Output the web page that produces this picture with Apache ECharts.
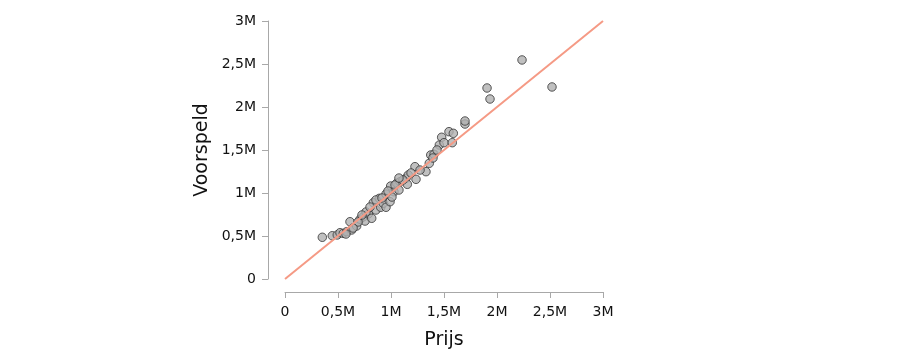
<!DOCTYPE html>
<html>
<head>
<meta charset="utf-8">
<script src="https://cdn.jsdelivr.net/npm/echarts@6/dist/echarts.min.js"></script>
<style>html,body{margin:0;padding:0;background:#fff;}#c{width:900px;height:361px;}</style>
</head>
<body>
<div id="c"></div>
<script>
// Observed price (Prijs), in millions
var prijs = [0.352,0.446,0.493,0.519,0.550,0.582,0.613,0.629,0.676,0.708,0.739,0.755,0.786,0.818,0.833,0.858,0.890,0.903,0.927,0.953,0.953,0.991,0.997,1.028,1.054,1.075,1.085,1.142,1.163,1.154,1.236,1.226,1.330,1.361,1.375,1.406,1.456,1.478,1.500,1.547,1.588,1.578,1.698,1.698,1.906,1.934,2.236,2.519,
  0.689,0.764,0.802,0.858,0.915,1.009,1.038,1.113,1.189,1.274,1.434,1.396,0.575,0.642,0.726,0.972,1.075];
// Predicted (Voorspeld), in millions
var voorspeld = [0.485,0.503,0.512,0.538,0.531,0.550,0.666,0.570,0.616,0.694,0.724,0.674,0.756,0.706,0.887,0.802,0.938,0.834,0.880,0.834,0.988,0.899,1.081,1.015,1.113,1.035,1.131,1.171,1.209,1.101,1.159,1.306,1.248,1.345,1.442,1.450,1.558,1.648,1.585,1.713,1.694,1.585,1.802,1.837,2.221,2.093,2.547,2.233,
  0.663,0.779,0.837,0.919,0.942,0.953,1.093,1.151,1.233,1.267,1.500,1.407,0.523,0.593,0.744,1.023,1.174];
var identityLine = [[0,0],[3,3]];
var tickValues = [0, 0.5, 1, 1.5, 2, 2.5, 3];

var pts = prijs.map(function(x,i){return [x*1e6, voorspeld[i]*1e6];});
var linePts = identityLine.map(function(p){return [p[0]*1e6,p[1]*1e6];});

function fmt(v){
  if (v === 0) return '0';
  return String(v/1e6).replace('.', ',') + 'M';
}
var font = 'DejaVu Sans';
var chart = echarts.init(document.getElementById('c'), null, {renderer:'canvas'});
var axisCommon = {
  type:'value', min:0, max:3e6, interval:0.5e6,
  splitLine:{show:false},
  axisLine:{show:true, onZero:false, lineStyle:{color:'#a8a8a8', width:1}},
  axisTick:{show:true, length:6, lineStyle:{color:'#a8a8a8'}},
  axisLabel:{formatter:fmt, color:'#111', fontSize:14, fontFamily:font},
  nameLocation:'middle',
  nameTextStyle:{color:'#111', fontSize:19, fontFamily:font}
};
chart.setOption({
  animation:false,
  grid:{left:285, right:297, top:21, bottom:82, containLabel:false},
  xAxis: Object.assign({}, axisCommon, {name:'Prijs', offset:13, nameGap:39, axisLabel:Object.assign({}, axisCommon.axisLabel, {margin:13})}),
  yAxis: Object.assign({}, axisCommon, {name:'Voorspeld', offset:17, nameGap:56, axisLabel:Object.assign({}, axisCommon.axisLabel, {margin:12})}),
  series:[
    {type:'scatter', data:pts, symbolSize:8.5, z:2,
      itemStyle:{color:'#b0b0b0', borderColor:'#333', borderWidth:1}},
    {type:'line', data:linePts, symbol:'none', z:3,
      lineStyle:{color:'#f59a85', width:2}}
  ]
});
</script>
</body>
</html>
